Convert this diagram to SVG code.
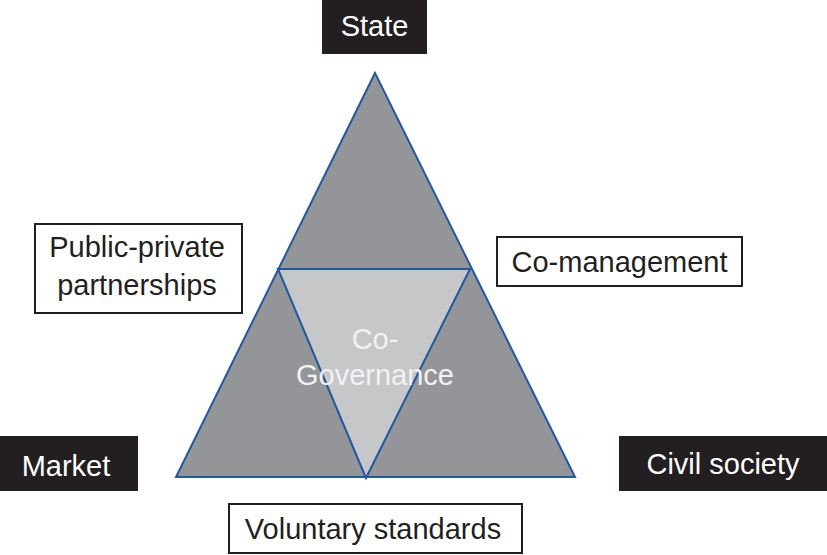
<svg xmlns="http://www.w3.org/2000/svg" width="827" height="555" viewBox="0 0 827 555">
<style>
.t{font-family:"Liberation Sans",Arial,sans-serif;font-size:29px;text-anchor:middle}
.dark rect{fill:#231f20}
.dark text{fill:#ffffff}
.light rect{fill:#ffffff;stroke:#231f20;stroke-width:2}
.light text{fill:#231f20}
.tri{stroke:#2258a0;stroke-width:2;stroke-linejoin:miter}
</style>
<rect width="827" height="555" fill="#ffffff"/>
<g id="triangle">
<polygon class="tri" points="375,73 176,477 575,477" fill="#939598"/>
<polygon class="tri" points="278,269 470,269 366,478" fill="#c6c7c9"/>
<text class="t" x="375" y="349" fill="#f2f2f2">Co-</text>
<text class="t" x="375" y="385" fill="#f2f2f2">Governance</text>
</g>
<g id="state" class="dark">
<rect x="322" y="0" width="105" height="54"/>
<text class="t" x="374.5" y="36">State</text>
</g>
<g id="market" class="dark">
<rect x="0" y="436" width="138" height="55"/>
<text class="t" x="66" y="476">Market</text>
</g>
<g id="civil-society" class="dark">
<rect x="619" y="436" width="208" height="55"/>
<text class="t" x="723" y="474">Civil society</text>
</g>
<g id="public-private" class="light">
<rect x="35" y="224" width="207" height="89"/>
<text class="t" x="137" y="257">Public-private</text>
<text class="t" x="137" y="295">partnerships</text>
</g>
<g id="co-management" class="light">
<rect x="497" y="237" width="245" height="49"/>
<text class="t" x="619.5" y="272">Co-management</text>
</g>
<g id="voluntary-standards" class="light">
<rect x="229" y="504" width="293" height="49"/>
<text class="t" x="373" y="539">Voluntary standards</text>
</g>
<g id="connectors"></g>
</svg>
